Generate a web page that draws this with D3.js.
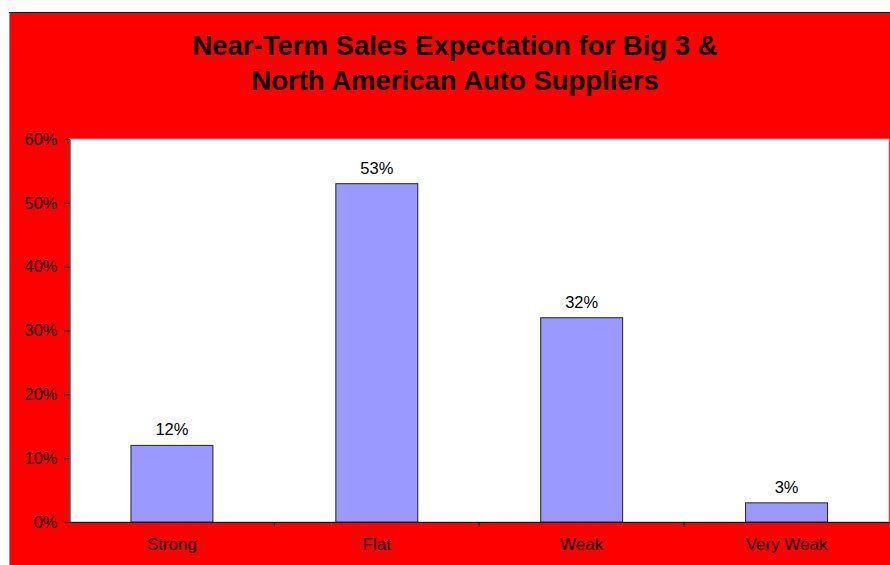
<!DOCTYPE html>
<html>
<head>
<meta charset="utf-8">
<script src="https://cdn.jsdelivr.net/npm/d3@7"></script>
<style>
  body { margin: 0; background: #fff; }
  svg { display: block; font-family: "Liberation Sans", Arial, sans-serif; }
</style>
</head>
<body>
<div id="chart"></div>
<script>
// chart data
var categories = ["Strong", "Flat", "Weak", "Very Weak"];
var values = [0.12, 0.53, 0.32, 0.03];
var yTicks = [0, 0.1, 0.2, 0.3, 0.4, 0.5, 0.6];
var titleLines = ["Near-Term Sales Expectation for Big 3 &", "North American Auto Suppliers"];

var w = 890, h = 565;
var plot = {left: 69.5, right: 889, top: 139, bottom: 522};

var svg = d3.select("#chart").append("svg")
    .attr("width", w)
    .attr("height", h);

// red chart area (runs past the right & bottom edge)
svg.append("rect")
   .attr("x", 9.5).attr("y", 12.5)
   .attr("width", 900).attr("height", 600)
   .attr("fill", "#ff0000")
   .attr("stroke", "#999").attr("stroke-width", 1);
svg.append("line")
   .attr("x1", 9).attr("x2", w)
   .attr("y1", 12.5).attr("y2", 12.5)
   .attr("stroke", "#000");

// title
svg.selectAll("text.title")
   .data(titleLines)
   .enter()
   .append("text")
   .attr("class", "title")
   .attr("x", 455)
   .attr("y", function(d, i){ return 55 + i * 34.5; })
   .attr("text-anchor", "middle")
   .attr("font-size", "27.5px")
   .attr("font-weight", "bold")
   .attr("fill", "#000")
   .text(function(d){ return d; });

// plot area
svg.append("rect")
   .attr("x", plot.left).attr("y", plot.top)
   .attr("width", plot.right - plot.left)
   .attr("height", plot.bottom - plot.top)
   .attr("fill", "#fff")
   .attr("stroke", "#a0a0a0").attr("stroke-width", 1);

var xScale = d3.scaleBand()
    .domain(categories)
    .range([plot.left, plot.right])
    .paddingInner(0)
    .paddingOuter(0);

var yScale = d3.scaleLinear()
    .domain([0, 0.6])
    .range([plot.bottom, plot.top]);

// y axis
var yAxis = svg.append("g")
   .attr("transform", "translate(" + plot.left + ",0)")
   .call(d3.axisLeft(yScale).tickValues(yTicks).tickSize(5).tickPadding(7)
         .tickFormat(d3.format(".0%")));
yAxis.select(".domain").attr("stroke", "#000");
yAxis.selectAll(".tick line").attr("stroke", "#000");
yAxis.selectAll(".tick text")
     .attr("font-size", "16.5px")
     .attr("font-family", "'Liberation Sans', Arial, sans-serif")
     .attr("fill", "#000");

// x axis - ticks sit between categories
var xAxis = svg.append("g")
   .attr("transform", "translate(0," + plot.bottom + ")")
   .call(d3.axisBottom(xScale).tickSize(0).tickPadding(16));
xAxis.select(".domain").attr("stroke", "#000");
xAxis.selectAll(".tick text")
     .attr("font-size", "17px")
     .attr("font-family", "'Liberation Sans', Arial, sans-serif")
     .attr("fill", "#000");

svg.selectAll("line.xsep")
   .data(categories.slice(1))
   .enter()
   .append("line")
   .attr("class", "xsep")
   .attr("x1", function(d){ return xScale(d); })
   .attr("x2", function(d){ return xScale(d); })
   .attr("y1", plot.bottom)
   .attr("y2", plot.bottom + 5)
   .attr("stroke", "#000");

// bars
var barW = xScale.bandwidth() * 0.4;
svg.selectAll("rect.bar")
   .data(values)
   .enter()
   .append("rect")
   .attr("class", "bar")
   .attr("x", function(d, i){ return xScale(categories[i]) + (xScale.bandwidth() - barW) / 2; })
   .attr("y", function(d){ return yScale(d); })
   .attr("width", barW)
   .attr("height", function(d){ return plot.bottom - yScale(d); })
   .attr("fill", "#9999ff")
   .attr("stroke", "#222").attr("stroke-width", 1);

// value labels
svg.selectAll("text.val")
   .data(values)
   .enter()
   .append("text")
   .attr("class", "val")
   .attr("x", function(d, i){ return xScale(categories[i]) + xScale.bandwidth() / 2; })
   .attr("y", function(d){ return yScale(d) - 10; })
   .attr("text-anchor", "middle")
   .attr("font-size", "16.5px")
   .attr("fill", "#000")
   .text(function(d){ return Math.round(d * 100) + "%"; });
</script>
</body>
</html>
